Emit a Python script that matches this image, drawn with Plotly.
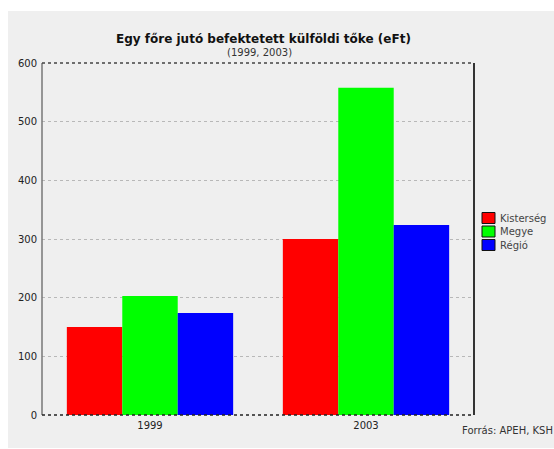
import plotly.graph_objects as go

# Data
years = ["1999", "2003"]
kisterseg = [150, 300]
megye = [203, 558]
regio = [174, 324]
series_names = ["Kisterség", "Megye", "Régió"]
series_colors = ["#ff0000", "#00ff00", "#0000ff"]
y_ticks = [0, 100, 200, 300, 400, 500, 600]

W, H = 554, 449
L, R, T, B = 42, 80, 63, 34
PW, PH = W - L - R, H - T - B


def px_x(p):
    return (p - L) / PW


def px_y(p):
    return (H - B - p) / PH


FONT = "DejaVu Sans"
BG = "#efefef"

fig = go.Figure()
for name, vals, col in zip(series_names, [kisterseg, megye, regio], series_colors):
    fig.add_trace(go.Bar(
        x=years, y=vals, name=name, showlegend=False,
        marker=dict(color=col, line=dict(color=col, width=0)),
    ))

shapes = [
    # panel background
    dict(type="rect", xref="paper", yref="paper", layer="below",
         x0=px_x(8), x1=px_x(W + 2), y0=px_y(448), y1=px_y(11),
         fillcolor=BG, line=dict(width=0)),
    # frame
    dict(type="line", xref="paper", yref="paper", x0=0, x1=0, y0=0, y1=1,
         line=dict(color="#777777", width=1.5)),
    dict(type="line", xref="paper", yref="paper", x0=0, x1=1, y0=1, y1=1,
         line=dict(color="#444444", width=1.5, dash="dot")),
    dict(type="line", xref="paper", yref="paper", x0=1, x1=1, y0=0, y1=1,
         line=dict(color="#333333", width=2)),
    dict(type="line", xref="paper", yref="paper", x0=0, x1=1, y0=0, y1=0,
         line=dict(color="#222222", width=1.5, dash="dot")),
]

annotations = [
    dict(text="<b>Egy főre jutó befektetett külföldi tőke (eFt)</b>",
         xref="paper", yref="paper", x=px_x(263), y=px_y(30),
         showarrow=False, font=dict(family=FONT, size=12, color="#111111")),
    dict(text="(1999, 2003)", xref="paper", yref="paper",
         x=px_x(259), y=px_y(45), showarrow=False,
         font=dict(family=FONT, size=10, color="#333333")),
    dict(text="Forrás: APEH, KSH", xref="paper", yref="paper",
         x=px_x(555), y=px_y(438), xanchor="right", showarrow=False,
         font=dict(family=FONT, size=10, color="#333333")),
]

# legend: swatch boxes with series names
for i, (name, col) in enumerate(zip(series_names, series_colors)):
    yc = 218 + i * 13.5
    shapes.append(dict(type="rect", xref="paper", yref="paper",
                       x0=px_x(482), x1=px_x(495),
                       y0=px_y(yc + 5.5), y1=px_y(yc - 5.5),
                       fillcolor=col, line=dict(color="#111111", width=1)))
    annotations.append(dict(text=name, xref="paper", yref="paper",
                            x=px_x(498), y=px_y(yc), xanchor="left",
                            yanchor="middle", showarrow=False,
                            font=dict(family=FONT, size=10, color="#444444")))

fig.update_layout(
    width=W, height=H,
    margin=dict(l=L, r=R, t=T, b=B, autoexpand=False),
    paper_bgcolor="white",
    plot_bgcolor=BG,
    barmode="group",
    bargap=0.23,
    bargroupgap=0,
    font=dict(family=FONT, size=10, color="#222222"),
    shapes=shapes,
    annotations=annotations,
    showlegend=False,
    xaxis=dict(showgrid=False, showline=False, ticks="", zeroline=False,
               ticklabelstandoff=3,
               tickfont=dict(family=FONT, size=10, color="#222222")),
    yaxis=dict(range=[0, 600], tickvals=y_ticks, showline=False,
               zeroline=False, ticks="", ticklabelstandoff=4,
               gridcolor="#b8b8b8", griddash="dot", gridwidth=1,
               tickfont=dict(family=FONT, size=10, color="#222222")),
)

fig.write_html("out.html")
